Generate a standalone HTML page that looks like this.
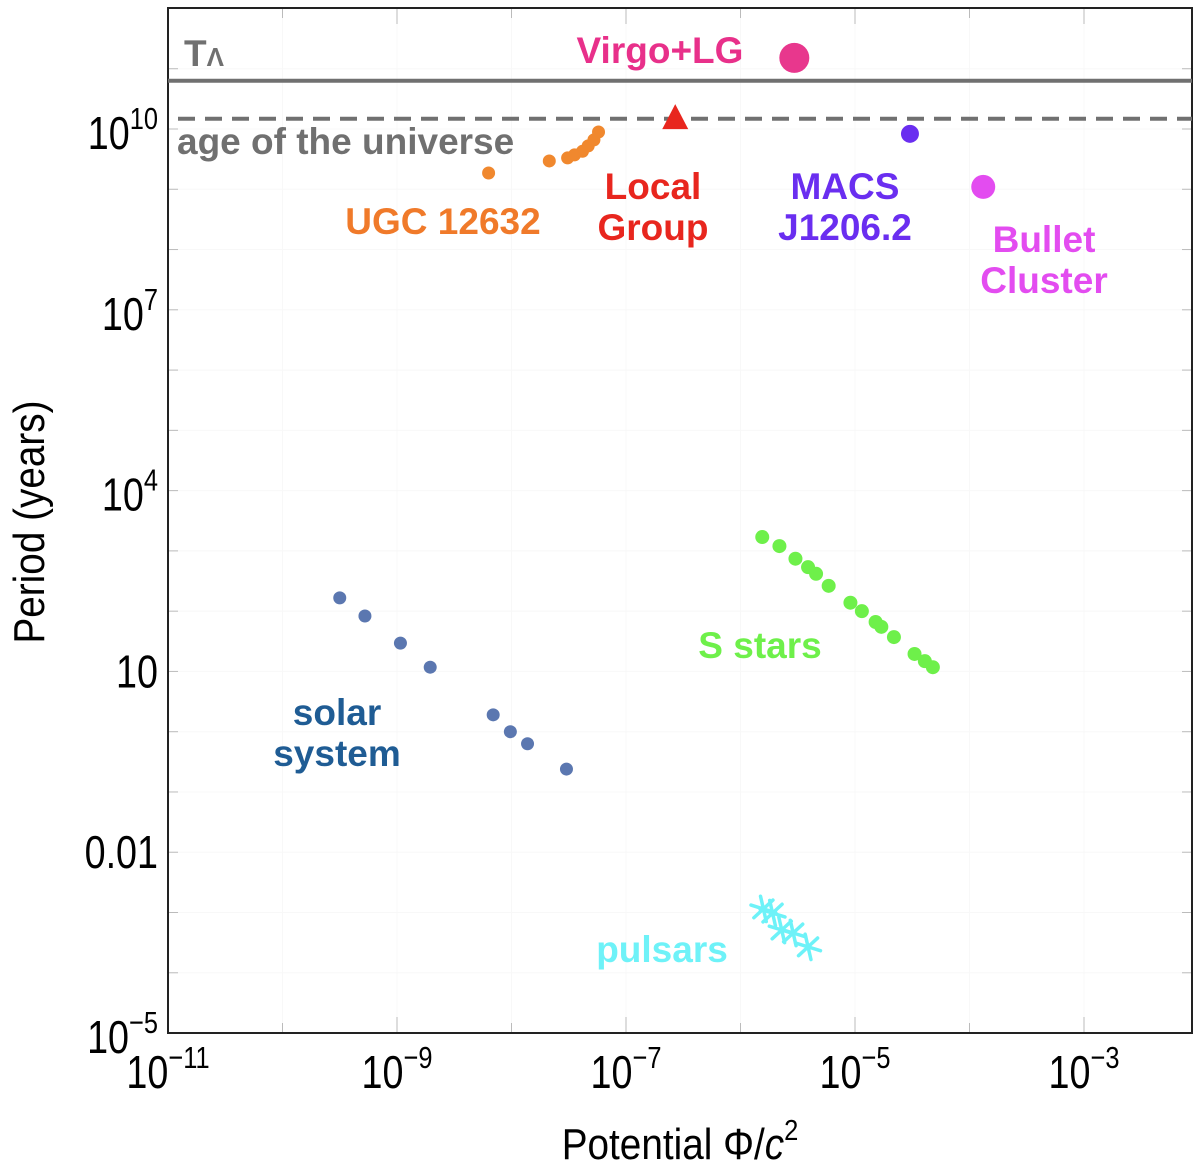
<!DOCTYPE html>
<html><head><meta charset="utf-8"><style>
html,body{margin:0;padding:0;background:#fff}
svg{display:block}
text{font-family:"Liberation Sans",sans-serif}
.lbl{font-weight:bold;font-size:37px}
</style></head><body>
<svg id="chart" width="1200" height="1172" viewBox="0 0 1200 1172">
<g id="grid"></g>
<g id="axes"></g>
<g id="marks"></g>
<g id="labels">
<text class="lbl" x="184" y="66" fill="#707070">T<tspan font-size="26">Λ</tspan></text>
<text class="lbl" x="660" y="63" fill="#e8308a" text-anchor="middle">Virgo+LG</text>
<text class="lbl" x="177" y="154" fill="#707070">age of the universe</text>
<text class="lbl" x="443" y="234" fill="#f07a2a" text-anchor="middle">UGC 12632</text>
<text class="lbl" x="653" y="199" fill="#e8261e" text-anchor="middle">Local</text>
<text class="lbl" x="653" y="240" fill="#e8261e" text-anchor="middle">Group</text>
<text class="lbl" x="845" y="199" fill="#6a2ef0" text-anchor="middle">MACS</text>
<text class="lbl" x="845" y="240" fill="#6a2ef0" text-anchor="middle">J1206.2</text>
<text class="lbl" x="1044" y="252" fill="#e34cf0" text-anchor="middle">Bullet</text>
<text class="lbl" x="1044" y="293" fill="#e34cf0" text-anchor="middle">Cluster</text>
<text class="lbl" x="760" y="658" fill="#6ef04a" text-anchor="middle">S stars</text>
<text class="lbl" x="337" y="725" fill="#1f5c94" text-anchor="middle">solar</text>
<text class="lbl" x="337" y="766" fill="#1f5c94" text-anchor="middle">system</text>
<text class="lbl" x="662" y="962" fill="#6ef2f8" text-anchor="middle">pulsars</text>
<g transform="translate(44 522) rotate(-90) scale(0.88 1)"><text x="0" y="0" font-size="44" text-anchor="middle">Period (years)</text></g>
<g transform="translate(680 1159) scale(0.88 1)"><text x="0" y="0" font-size="44" text-anchor="middle">Potential Φ/<tspan font-style="italic">c</tspan><tspan font-size="29" dy="-19">2</tspan></text></g>
</g>
</svg>
<script>
// log10 values
const solarX=[-9.50,-9.28,-8.97,-8.71,-8.16,-8.01,-7.86,-7.52];
const solarY=[2.22,1.92,1.47,1.07,0.28,0.0,-0.20,-0.62];
const sStarX=[-5.81,-5.66,-5.52,-5.41,-5.34,-5.23,-5.04,-4.94,-4.82,-4.77,-4.66,-4.48,-4.39,-4.32];
const sStarY=[3.23,3.08,2.87,2.73,2.62,2.42,2.14,2.00,1.82,1.74,1.57,1.29,1.17,1.07];
const pulsarX=[-5.80,-5.72,-5.64,-5.54,-5.41];
const pulsarY=[-2.94,-3.01,-3.29,-3.34,-3.57];
const ugcX=[-8.20,-7.67,-7.51,-7.45,-7.38,-7.33,-7.28,-7.24];
const ugcY=[9.27,9.47,9.52,9.57,9.63,9.72,9.82,9.95];
const localGroup=[-6.57,10.18];
const virgo=[-5.53,11.18];
const macs=[-4.52,9.92];
const bullet=[-3.88,9.04];
const tLambda=10.80;
const ageUniverse=10.17;
const xTicks=[-11,-9,-7,-5,-3];
const yTicks=[-5,-2,1,4,7,10];
const yTickLabels=["10^-5","0.01","10","10^4","10^7","10^10"];

const L=168,R=1192,T=8,B=1033;
const X=v=>L+(v+11)*114.5;
const Y=v=>129-(v-10)*60.27;
const NS='http://www.w3.org/2000/svg';
function mk(tag,attrs,parent){const e=document.createElementNS(NS,tag);for(const k in attrs)e.setAttribute(k,attrs[k]);parent.appendChild(e);return e;}
const axes=document.getElementById('axes'),marks=document.getElementById('marks'),grid=document.getElementById('grid');

for(let d=-11;d<=-3;d++){const x=X(d);
 let g=mk('line',{x1:x,x2:x,y1:T,y2:B,stroke:'#f8f8f8','stroke-width':1},grid);
 
 let t=mk('line',{x1:x,x2:x,y1:B,y2:B-(d%2?16:10),stroke:'#bbb','stroke-width':1},axes);
 
 t=mk('line',{x1:x,x2:x,y1:T,y2:T+(d%2?16:10),stroke:'#bbb','stroke-width':1},axes);
 }
for(let d=-5;d<=11;d++){const y=Y(d);
 let g=mk('line',{x1:L,x2:R,y1:y,y2:y,stroke:'#f8f8f8','stroke-width':1},grid);
 
 let t=mk('line',{x1:L,x2:L+10,y1:y,y2:y,stroke:'#bbb','stroke-width':1},axes);
 
 t=mk('line',{x1:R,x2:R-10,y1:y,y2:y,stroke:'#bbb','stroke-width':1},axes);
 }
const fr=mk('rect',{x:L,y:T,width:R-L,height:B-T,fill:'none',stroke:'#222','stroke-width':2},axes);


function tickText(x,y,anchor,name){
 const g=mk('g',{transform:`translate(${x} ${y}) scale(0.82 1)`},axes);
 const t=mk('text',{x:0,y:0,'font-size':46,'text-anchor':anchor},g);
 
 return t;
}
function powLabel(x,y,exp,anchor,name){
 const t=tickText(x,y,anchor,name);
 const a=document.createElementNS(NS,'tspan');a.textContent='10';t.appendChild(a);
 const b=document.createElementNS(NS,'tspan');b.setAttribute('font-size','31');b.setAttribute('dy','-20');b.textContent=exp.replace('-','−');t.appendChild(b);
}
xTicks.forEach(v=>powLabel(X(v),1088,String(v),'middle','x-tick-label'));
yTickLabels.forEach((s,i)=>{const y=Y(yTicks[i])+16;
 if(s.indexOf('^')>=0)powLabel(158,y+4,s.split('^')[1],'end','y-tick-label');
 else{const t=tickText(158,y,'end','y-tick-label');t.textContent=s;}});

let ln=mk('line',{x1:L,x2:R,y1:Y(tLambda),y2:Y(tLambda),stroke:'#707070','stroke-width':4},marks);

ln=mk('line',{x1:L+10,x2:R,y1:Y(ageUniverse),y2:Y(ageUniverse),stroke:'#707070','stroke-width':4,'stroke-dasharray':'17,10'},marks);


function dots(xs,ys,r,col,name){xs.forEach((v,i)=>{const c=mk('circle',{cx:X(v),cy:Y(ys[i]),r:r,fill:col},marks);
 });}
dots(solarX,solarY,6.5,'#5b77b0','solar-point');
dots(sStarX,sStarY,7,'#6ef04a','s-star-point');
dots(ugcX,ugcY,6.5,'#f0882e','ugc-point');
pulsarX.forEach((v,i)=>{const cx=X(v),cy=Y(pulsarY[i]);let d='';
 for(let k=0;k<6;k++){const a=k*Math.PI/3+0.3;d+=`M${cx} ${cy}L${cx+13*Math.cos(a)} ${cy+13*Math.sin(a)}`;}
 const p=mk('path',{d:d,stroke:'#6ef2f8','stroke-width':3.5,'stroke-linecap':'round'},marks);
 });
let c=mk('circle',{cx:X(virgo[0]),cy:Y(virgo[1]),r:15,fill:'#e8378d'},marks);

c=mk('circle',{cx:X(macs[0]),cy:Y(macs[1]),r:9,fill:'#6a2ef0'},marks);

c=mk('circle',{cx:X(bullet[0]),cy:Y(bullet[1]),r:12,fill:'#e34cf0'},marks);

const tx=X(localGroup[0]),ty=Y(localGroup[1]);
c=mk('polygon',{points:`${tx},${ty-14} ${tx-13},${ty+11} ${tx+13},${ty+11}`,fill:'#e8261e'},marks);

</script>
</body></html>
